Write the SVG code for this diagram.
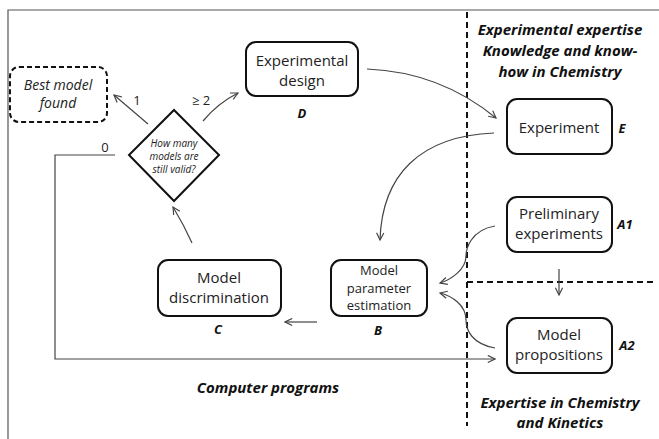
<svg xmlns="http://www.w3.org/2000/svg" width="659" height="439" viewBox="0 0 659 439">
<style>
.box{fill:#fff;stroke:#111;stroke-width:2}
.dash{fill:#fff;stroke:#111;stroke-width:2;stroke-dasharray:5,3}
.t{font-family:"Open Sans","Liberation Sans",sans-serif;fill:#222;text-anchor:middle}
.bi{font-family:"Open Sans","Liberation Sans",sans-serif;font-weight:bold;font-style:italic;fill:#111;text-anchor:middle}
.i{font-family:"Open Sans","Liberation Sans",sans-serif;font-style:italic;fill:#222;text-anchor:middle}
.c{fill:none;stroke:#444;stroke-width:1.2}
.sep{fill:none;stroke:#111;stroke-width:2;stroke-dasharray:6,4}
</style>
<defs>
<marker id="ah" viewBox="0 0 10 10" refX="9" refY="5" markerWidth="9" markerHeight="9" orient="auto" markerUnits="userSpaceOnUse">
<path d="M1,1 L9,5 L1,9" fill="none" stroke="#444" stroke-width="1.3"/>
</marker>
</defs>
<rect width="659" height="439" fill="#fff"/>
<path d="M8,439 L8,10 L659,10" fill="none" stroke="#555" stroke-width="1.2"/>

<g id="separators">
<line x1="467" y1="12" x2="467" y2="426" class="sep"/>
<line x1="467" y1="282" x2="656" y2="282" class="sep"/>
</g>

<g id="connectors">
<path class="c" d="M148,124 L114,95" marker-end="url(#ah)"/>
<path class="c" d="M203,121 Q218,103 238,93" marker-end="url(#ah)"/>
<path class="c" d="M367,69 Q440,72 496,118" marker-end="url(#ah)"/>
<path class="c" d="M494,133 C420,136 382,175 380,240" marker-end="url(#ah)"/>
<path class="c" d="M495,226 C470,230 466,250 466,256 C466,270 450,280 440,283" marker-end="url(#ah)"/>
<path class="c" d="M495,348 C472,344 466,330 466,320 C466,305 452,296 440,293" marker-end="url(#ah)"/>
<path class="c" d="M559,269 L559,295" marker-end="url(#ah)"/>
<path class="c" d="M317,322 L285,322" marker-end="url(#ah)"/>
<path class="c" d="M192,243 Q184,225 173,207" marker-end="url(#ah)"/>
<path class="c" d="M115,155 L55,155 L55,359 L495,359" marker-end="url(#ah)"/>
<text x="137" y="105" class="t" font-size="13">1</text>
<text x="201" y="105" class="t" font-size="13">≥ 2</text>
<text x="105" y="152" class="t" font-size="13">0</text>
</g>

<g id="best">
<rect x="10" y="67" width="97" height="55" rx="9" class="dash"/>
<text x="58" y="90" class="i" font-size="14">Best model</text>
<text x="58" y="108" class="i" font-size="14">found</text>
</g>

<g id="decision">
<polygon points="174,110 219,155 174,201 129,155" class="box"/>
<text x="174" y="147" class="i" font-size="10">How many</text>
<text x="174" y="160" class="i" font-size="10">models are</text>
<text x="174" y="173" class="i" font-size="10">still valid?</text>
</g>

<g id="D">
<rect x="246" y="42" width="112" height="54" rx="10" class="box"/>
<text x="302" y="66" class="t" font-size="15">Experimental</text>
<text x="302" y="86" class="t" font-size="15">design</text>
<text x="302" y="118" class="bi" font-size="13">D</text>
</g>

<g id="E">
<rect x="507" y="99" width="105" height="55" rx="10" class="box"/>
<text x="559" y="133" class="t" font-size="15">Experiment</text>
<text x="622" y="133" class="bi" font-size="13">E</text>
</g>

<g id="A1">
<rect x="507" y="197" width="105" height="55" rx="10" class="box"/>
<text x="559" y="219" class="t" font-size="15">Preliminary</text>
<text x="559" y="239" class="t" font-size="15">experiments</text>
<text x="625" y="229" class="bi" font-size="13">A1</text>
</g>

<g id="A2">
<rect x="507" y="318" width="105" height="55" rx="10" class="box"/>
<text x="559" y="340" class="t" font-size="15">Model</text>
<text x="559" y="360" class="t" font-size="15">propositions</text>
<text x="627" y="350" class="bi" font-size="13">A2</text>
</g>

<g id="B">
<rect x="331" y="260" width="96" height="56" rx="10" class="box"/>
<text x="379" y="275" class="t" font-size="13">Model</text>
<text x="379" y="292.5" class="t" font-size="13">parameter</text>
<text x="379" y="310" class="t" font-size="13">estimation</text>
<text x="378" y="335" class="bi" font-size="13">B</text>
</g>

<g id="C">
<rect x="158" y="260" width="123" height="56" rx="10" class="box"/>
<text x="219" y="283" class="t" font-size="15">Model</text>
<text x="219" y="303" class="t" font-size="15">discrimination</text>
<text x="218" y="334" class="bi" font-size="13">C</text>
</g>

<g id="labels">
<text x="560" y="35" class="bi" font-size="15">Experimental expertise</text>
<text x="560" y="56" class="bi" font-size="15">Knowledge and know-</text>
<text x="560" y="77" class="bi" font-size="15">how in Chemistry</text>
<text x="268" y="393" class="bi" font-size="15">Computer  programs</text>
<text x="560" y="408" class="bi" font-size="15">Expertise in Chemistry</text>
<text x="560" y="428" class="bi" font-size="15">and Kinetics</text>
</g>
</svg>
